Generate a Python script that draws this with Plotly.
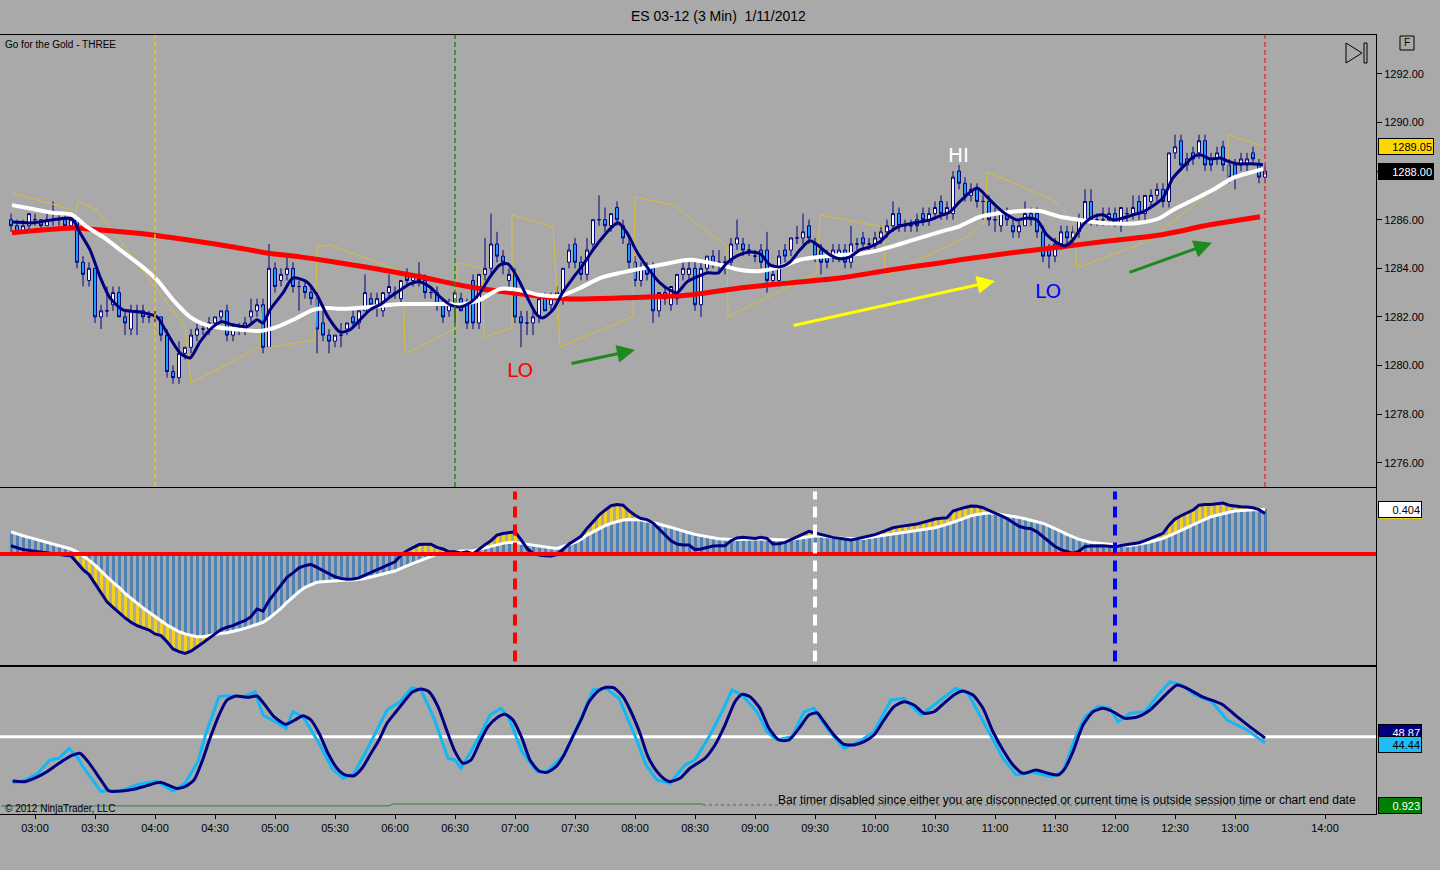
import plotly.graph_objects as go

W, H = 1440, 870
BG = "#A9A9A9"
NAVY = "#000080"
FONT = "Liberation Sans, Arial, sans-serif"

# ---------------- DATA ----------------
# 3-minute bars, minutes relative to 03:00 (first bar 02:48)
bar_start_minute = -12
bar_step_minutes = 3

open_prices = [
 1286.0,1285.75,1285.5,1285.75,1286.0,1286.0,1285.75,1286.0,1286.0,1286.0,
 1285.75,1286.0,1284.25,1283.5,1284.0,1282.0,1282.25,1282.5,1283.0,1282.0,
 1281.5,1282.25,1282.25,1282.0,1282.0,1282.0,1281.25,1279.75,1279.5,1280.5,
 1280.75,1281.25,1281.5,1281.5,1281.75,1282.0,1282.25,1281.25,1281.5,1281.5,
 1282.0,1282.25,1282.5,1280.75,1284.0,1283.5,1283.75,1284.0,1283.25,1283.25,
 1283.0,1282.75,1281.75,1281.25,1281.0,1281.25,1281.5,1282.0,1281.75,1282.25,
 1282.75,1282.5,1282.25,1283.0,1283.0,1282.75,1283.75,1283.5,1283.75,1283.5,
 1283.0,1283.0,1282.5,1282.25,1282.5,1282.75,1282.5,1283.5,1281.75,1283.75,
 1284.0,1285.0,1284.5,1283.5,1283.75,1282.0,1281.75,1281.75,1282.0,1282.75,
 1282.5,1282.75,1282.75,1284.25,1285.0,1284.25,1283.75,1285.0,1286.0,1286.0,
 1285.75,1286.5,1285.75,1285.0,1284.25,1283.5,1284.0,1284.0,1282.25,1283.0,
 1282.5,1282.75,1283.75,1283.75,1284.0,1282.5,1284.0,1284.5,1284.25,1284.25,
 1284.25,1285.0,1285.0,1284.75,1284.5,1284.75,1284.75,1283.5,1283.5,1284.75,
 1284.75,1285.25,1285.25,1285.75,1285.0,1284.75,1284.5,1284.5,1284.5,1284.75,
 1284.25,1285.0,1285.25,1285.0,1285.0,1285.25,1285.5,1285.75,1286.25,1285.75,
 1285.75,1286.0,1286.25,1286.0,1286.25,1286.75,1286.25,1286.25,1288.0,1287.5,
 1287.0,1287.25,1286.75,1286.75,1286.0,1285.75,1286.25,1285.75,1285.5,1285.75,
 1286.25,1286.25,1285.5,1284.75,1284.5,1285.0,1285.5,1285.25,1285.5,1286.0,
 1286.75,1286.0,1286.0,1286.0,1286.25,1285.75,1286.25,1286.25,1286.75,1286.25,
 1286.75,1287.0,1287.25,1286.75,1288.75,1289.25,1288.25,1288.75,1288.75,1289.25,
 1288.5,1288.5,1289.0,1288.25,1288.25,1288.25,1288.25,1288.75,1288.25,1287.75]

high_prices = [
 1286.25,1286.0,1286.0,1286.25,1286.25,1286.0,1286.25,1286.75,1286.25,1286.25,
 1286.25,1286.0,1284.5,1284.25,1284.0,1282.5,1283.25,1283.25,1283.25,1282.25,
 1282.5,1282.5,1282.5,1282.25,1282.25,1282.0,1281.5,1280.0,1281.0,1280.75,
 1281.5,1281.75,1281.75,1282.0,1282.0,1282.25,1282.5,1281.75,1281.75,1282.0,
 1282.75,1282.75,1282.75,1285.0,1284.25,1284.0,1284.5,1284.25,1283.5,1283.5,
 1283.25,1283.0,1282.25,1281.5,1281.25,1281.75,1281.75,1282.25,1282.25,1283.75,
 1283.0,1283.0,1283.0,1283.75,1283.25,1283.5,1284.0,1283.75,1284.25,1283.75,
 1283.25,1283.25,1282.75,1282.75,1283.0,1283.0,1282.75,1283.75,1283.75,1285.25,
 1286.25,1285.5,1284.75,1284.0,1284.0,1282.25,1282.25,1282.25,1282.75,1283.0,
 1283.0,1283.25,1284.0,1285.0,1285.25,1284.5,1285.25,1286.0,1287.0,1286.5,
 1286.25,1286.75,1286.0,1285.25,1284.5,1284.25,1284.25,1284.25,1283.0,1283.25,
 1283.25,1283.75,1284.25,1284.25,1284.25,1284.25,1284.5,1284.75,1284.75,1284.5,
 1285.25,1286.0,1285.25,1285.0,1284.75,1285.0,1285.5,1284.0,1284.75,1285.0,
 1285.25,1285.75,1286.25,1286.0,1285.25,1285.0,1284.75,1285.0,1285.0,1285.0,
 1285.75,1285.25,1285.5,1285.25,1285.5,1285.75,1286.0,1286.75,1286.5,1286.0,
 1286.0,1286.25,1286.5,1286.5,1286.75,1287.0,1286.75,1288.0,1288.25,1287.75,
 1287.5,1287.5,1287.0,1287.0,1286.5,1286.25,1286.5,1286.0,1286.0,1286.75,
 1286.5,1286.5,1285.75,1285.0,1285.25,1285.75,1285.75,1285.75,1286.25,1287.25,
 1287.25,1286.25,1286.5,1286.5,1286.5,1286.5,1286.5,1287.0,1287.0,1287.0,
 1287.25,1287.5,1287.5,1288.75,1289.5,1289.5,1288.75,1289.0,1289.5,1289.5,
 1288.75,1289.0,1289.25,1288.5,1288.5,1288.75,1288.75,1289.0,1288.5,1288.25]

low_prices = [
 1285.5,1285.5,1285.5,1285.5,1285.75,1285.5,1285.75,1285.75,1285.75,1285.75,
 1285.75,1284.0,1283.25,1283.25,1281.75,1281.5,1282.0,1282.25,1282.0,1281.25,
 1281.25,1281.25,1281.75,1281.75,1281.75,1281.0,1279.5,1279.25,1279.25,1280.25,
 1280.5,1281.0,1281.25,1281.25,1281.5,1281.75,1281.0,1281.0,1281.25,1281.25,
 1281.75,1282.0,1280.5,1280.75,1283.0,1283.25,1283.5,1283.0,1282.25,1282.75,
 1282.5,1280.5,1281.0,1280.5,1280.75,1280.75,1281.25,1281.5,1281.5,1282.25,
 1282.25,1282.0,1282.0,1282.75,1282.75,1282.5,1283.25,1283.25,1283.25,1282.75,
 1282.75,1282.25,1281.75,1282.0,1281.75,1282.25,1281.5,1281.5,1281.5,1283.5,
 1283.75,1284.25,1283.75,1283.25,1281.75,1280.75,1281.25,1281.25,1281.75,1282.25,
 1282.25,1282.5,1282.5,1284.0,1284.0,1283.5,1283.5,1284.75,1285.75,1285.5,
 1285.5,1285.75,1285.0,1284.0,1283.25,1283.25,1283.5,1281.75,1282.0,1282.5,
 1282.25,1282.5,1283.5,1283.5,1282.25,1282.0,1283.75,1284.0,1283.75,1283.75,
 1284.0,1284.75,1284.5,1284.5,1284.25,1284.0,1283.0,1283.25,1283.25,1284.25,
 1284.5,1285.0,1285.0,1285.0,1284.25,1283.75,1284.0,1284.25,1284.25,1284.0,
 1284.0,1284.75,1284.75,1284.75,1284.75,1285.0,1285.25,1285.5,1285.5,1285.5,
 1285.5,1285.5,1285.75,1285.75,1286.0,1286.0,1286.0,1286.0,1287.25,1286.75,
 1286.75,1286.5,1286.0,1285.75,1285.5,1285.5,1285.75,1285.25,1285.25,1285.75,
 1285.75,1285.25,1284.25,1284.0,1284.25,1284.75,1285.0,1285.0,1285.25,1286.0,
 1285.75,1285.75,1285.75,1285.75,1285.75,1285.5,1285.75,1286.0,1286.0,1286.0,
 1286.5,1286.75,1286.5,1286.5,1288.5,1288.0,1288.0,1288.25,1288.5,1288.0,
 1288.0,1288.25,1288.0,1287.5,1287.25,1288.0,1288.0,1288.25,1287.5,1287.5]

close_prices = [
 1285.75,1285.5,1285.75,1286.25,1286.0,1285.75,1286.0,1286.0,1286.0,1285.75,
 1286.0,1284.25,1283.75,1284.0,1282.0,1282.25,1282.25,1283.0,1282.0,1281.75,
 1282.25,1282.25,1282.0,1282.0,1282.0,1281.25,1279.75,1279.5,1280.5,1280.75,
 1281.25,1281.5,1281.5,1281.75,1282.0,1282.25,1281.25,1281.5,1281.5,1281.75,
 1282.25,1282.5,1280.75,1284.0,1283.25,1283.75,1284.0,1283.25,1283.25,1283.0,
 1282.75,1281.5,1281.25,1281.0,1281.25,1281.25,1281.75,1281.75,1282.25,1283.0,
 1282.5,1282.75,1283.0,1283.25,1283.0,1283.5,1283.5,1283.75,1283.5,1283.0,
 1283.0,1282.5,1282.0,1282.5,1283.0,1282.25,1281.75,1281.75,1283.75,1284.0,
 1285.0,1284.5,1284.25,1283.75,1282.0,1281.75,1281.75,1282.0,1282.75,1282.25,
 1282.75,1283.0,1284.0,1284.75,1284.25,1283.75,1284.75,1286.0,1286.0,1285.75,
 1286.25,1286.0,1285.25,1284.25,1283.5,1284.0,1283.75,1282.25,1283.0,1282.75,
 1283.25,1283.75,1284.0,1284.0,1282.5,1284.0,1284.5,1284.25,1284.25,1284.25,
 1285.0,1285.25,1284.75,1284.75,1284.5,1284.25,1283.5,1283.75,1284.5,1284.5,
 1285.25,1285.25,1285.5,1285.25,1284.5,1284.25,1284.25,1284.75,1284.75,1284.25,
 1285.0,1285.0,1285.0,1285.0,1285.25,1285.5,1285.75,1286.25,1285.75,1285.75,
 1285.75,1285.75,1286.0,1286.25,1286.5,1286.25,1286.5,1287.75,1287.5,1287.0,
 1287.25,1286.75,1286.75,1286.0,1286.0,1286.25,1286.0,1285.5,1285.75,1286.25,
 1286.0,1285.5,1284.5,1284.5,1285.0,1285.5,1285.25,1285.5,1286.0,1286.75,
 1286.0,1286.0,1286.0,1286.25,1285.75,1286.5,1286.25,1286.5,1286.25,1287.0,
 1287.0,1287.25,1286.75,1288.75,1289.0,1288.25,1288.5,1288.5,1289.25,1288.25,
 1288.25,1288.75,1288.25,1287.75,1287.75,1288.5,1288.5,1288.5,1287.75,1288.0]

# moving averages: (minute, price)
fast_ma = [(-11.5,1285.9),(-1,1285.87),(9,1286.0),(18.5,1286.03),(22.5,1285.46),(27.5,1284.76),
 (32.5,1283.65),(37.5,1282.78),(44,1282.29),(52.5,1282.2),(61,1282.0),(66,1281.34),(72.5,1280.52),
 (77.5,1280.31),(82.5,1280.97),(89,1281.59),(93.5,1281.8),(99,1281.67),(106,1281.6),(111,1281.88),
 (114,1281.75),(117.5,1282.29),(124,1282.99),(129,1283.6),(136,1283.44),(141,1282.9),(146.5,1282.0),
 (152.5,1281.38),(157.5,1281.47),(162.5,1281.88),(167.5,1282.29),(172.5,1282.5),(177.5,1282.82),
 (182.5,1283.1),(187.5,1283.36),(192.5,1283.44),(197.5,1283.23),(202.5,1282.82),(207.5,1282.5),
 (212.5,1282.41),(217.5,1282.58),(222.5,1282.99),(227.5,1283.65),(232.5,1284.14),(236.5,1284.18),
 (241,1283.65),(246,1282.82),(251,1282.08),(254,1281.96),(259,1282.29),(264,1283.03),(269,1283.6),
 (274,1284.14),(279,1284.76),(284,1285.29),(288.5,1285.7),(291.5,1285.87),(296,1285.46),(301,1284.67),
 (306.5,1284.0),(312.5,1283.4),(317.5,1283.1),(321,1282.99),(326,1283.44),(331,1283.65),(336,1283.81),
 (341.5,1283.81),(346,1284.22),(351,1284.51),(357.5,1284.67),(362.5,1284.6),(367.5,1284.14),
 (372.5,1284.06),(377.5,1284.26),(382.5,1284.76),(387.5,1285.13),(392.5,1284.88),(397.5,1284.55),
 (402.5,1284.39),(407.5,1284.47),(412.5,1284.76),(417.5,1284.88),(422.5,1285.09),(427.5,1285.5),
 (432.5,1285.74),(437.5,1285.83),(442.5,1285.91),(447.5,1285.99),(452.5,1286.16),(457.5,1286.32),
 (462.5,1286.75),(471,1287.3),(476,1286.94),(481,1286.53),(486,1286.2),(491,1285.99),(496,1286.07),
 (501,1285.99),(506,1285.37),(511,1285.05),(515,1284.92),(519,1285.17),(524,1285.79),(529,1286.12),
 (534,1286.2),(539,1285.99),(544,1286.07),(549,1286.2),(554,1286.32),(559,1286.57),(564,1286.9),
 (569,1287.72),(574,1288.17),(579,1288.58),(582.5,1288.67),(587.5,1288.5),(592.5,1288.54),
 (596,1288.42),(601,1288.3),(607.5,1288.3),(614,1288.26)]

mid_ma = [(-11.5,1286.6),(-1,1286.44),(9,1286.28),(18.5,1286.2),(26,1285.7),(34,1285.29),(44,1284.67),
 (52.5,1284.14),(61,1283.52),(69,1282.7),(77.5,1282.0),(84,1281.71),(92.5,1281.55),(102.5,1281.47),
 (112.5,1281.42),(121,1281.59),(129,1281.88),(139,1282.29),(146.5,1282.37),(152.5,1282.33),
 (167.5,1282.41),(182.5,1282.53),(192.5,1282.53),(207.5,1282.53),(212.5,1282.5),(222.5,1282.7),
 (232.5,1283.15),(242.5,1283.1),(252.5,1282.9),(262.5,1282.86),(272.5,1283.19),(282.5,1283.6),
 (292.5,1283.81),(306.5,1284.04),(317.5,1284.22),(327.5,1284.35),(342.5,1284.14),(352.5,1283.93),
 (362.5,1283.89),(372.5,1284.06),(382.5,1284.35),(392.5,1284.47),(402.5,1284.55),(412.5,1284.6),
 (422.5,1284.76),(432.5,1285.0),(442.5,1285.25),(452.5,1285.5),(462.5,1285.74),(472.5,1286.12),
 (487.5,1286.32),(502.5,1286.36),(512.5,1286.12),(522.5,1285.99),(532.5,1285.87),(542.5,1285.83),
 (552.5,1285.87),(562.5,1286.07),(569,1286.4),(579,1286.81),(589,1287.23),(599,1287.72),
 (609,1287.97),(614,1288.09)]

slow_ma = [(-11.5,1285.46),(-1,1285.54),(18.5,1285.66),(32.5,1285.58),(49,1285.46),(66,1285.29),
 (82.5,1285.09),(99,1284.88),(116,1284.63),(132.5,1284.47),(146.5,1284.3),(167.5,1284.02),
 (192.5,1283.65),(217.5,1283.23),(242.5,1282.95),(267.5,1282.74),(292.5,1282.78),(327.5,1282.9),
 (352.5,1283.19),(377.5,1283.4),(402.5,1283.6),(427.5,1283.93),(452.5,1284.22),(462.5,1284.35),
 (487.5,1284.63),(512.5,1284.88),(537.5,1285.13),(562.5,1285.37),(587.5,1285.79),(612.5,1286.12)]

# thin yellow channel lines (minute, price)
channel_lines = [
 [(-11.5,1287.10),(19,1286.40)],
 [(20,1286.28),(21.5,1286.73),(31,1286.40),(75,1281.59),(78,1279.28),(112.5,1280.77),(113.5,1282.41)],
 [(116,1280.72),(140,1281.05),(141,1284.88),(147.5,1284.96),(184,1283.85),(185,1280.52)],
 [(186,1280.52),(211,1281.55),(211,1284.22),(223.5,1284.02),(224.5,1281.18),(238.5,1281.55),
  (238.5,1286.20),(259,1285.70),(262.5,1280.77),(299,1282.0),(300,1286.94),(319,1286.61),
  (346,1284.88),(346.5,1282.0),(391,1283.81),(392.5,1286.20),(424,1285.70),(425,1284.02),
  (426,1283.73),(466,1285.29),(475,1285.91),(476,1287.97),(509,1286.81),(519,1285.99),
  (521,1284.02),(556,1285.09),(589,1287.23),(596.5,1287.64),(596.5,1289.49),(615,1289.0)]]

# MACD-style panel, one value per bar
macd_hist = [
 0.20,0.18,0.165,0.15,0.135,0.12,0.105,0.09,0.075,0.065,
 0.045,0.02,-0.015,-0.055,-0.10,-0.155,-0.205,-0.255,-0.30,-0.355,
 -0.40,-0.445,-0.485,-0.525,-0.565,-0.605,-0.64,-0.67,-0.70,-0.72,
 -0.735,-0.745,-0.745,-0.735,-0.72,-0.715,-0.71,-0.70,-0.685,-0.67,
 -0.65,-0.635,-0.615,-0.58,-0.535,-0.49,-0.435,-0.385,-0.34,-0.30,
 -0.275,-0.255,-0.25,-0.245,-0.24,-0.237,-0.235,-0.235,-0.228,-0.22,
 -0.207,-0.195,-0.183,-0.17,-0.153,-0.13,-0.105,-0.085,-0.063,-0.04,
 -0.02,0.0,-0.005,0.006,0.02,0.027,0.027,0.03,0.042,0.057,
 0.072,0.081,0.096,0.105,0.105,0.096,0.087,0.081,0.072,0.06,
 0.057,0.051,0.066,0.087,0.105,0.132,0.171,0.20,0.23,0.255,
 0.276,0.29,0.306,0.312,0.312,0.306,0.297,0.285,0.27,0.255,
 0.24,0.222,0.207,0.192,0.177,0.165,0.156,0.147,0.138,0.132,
 0.132,0.132,0.135,0.135,0.135,0.135,0.132,0.126,0.126,0.126,
 0.132,0.141,0.15,0.156,0.162,0.162,0.156,0.15,0.147,0.141,
 0.141,0.141,0.141,0.148,0.156,0.163,0.171,0.181,0.192,0.20,
 0.207,0.215,0.222,0.23,0.237,0.252,0.267,0.286,0.306,0.325,
 0.345,0.356,0.366,0.372,0.366,0.358,0.351,0.34,0.33,0.318,
 0.306,0.29,0.276,0.253,0.231,0.204,0.177,0.155,0.132,0.118,
 0.105,0.10,0.096,0.088,0.081,0.078,0.075,0.081,0.087,0.099,
 0.111,0.126,0.141,0.163,0.186,0.211,0.237,0.264,0.291,0.313,
 0.336,0.351,0.366,0.376,0.387,0.392,0.396,0.398,0.40,0.404]

macd_line = [
 0.075,0.055,0.04,0.033,0.025,0.015,0.005,0.0,-0.01,-0.012,
 -0.015,-0.075,-0.14,-0.185,-0.27,-0.35,-0.43,-0.48,-0.53,-0.575,
 -0.615,-0.645,-0.665,-0.685,-0.72,-0.735,-0.79,-0.855,-0.88,-0.895,
 -0.875,-0.84,-0.80,-0.76,-0.72,-0.68,-0.66,-0.645,-0.62,-0.60,
 -0.565,-0.495,-0.515,-0.42,-0.35,-0.28,-0.21,-0.17,-0.125,-0.105,
 -0.093,-0.12,-0.15,-0.18,-0.205,-0.22,-0.228,-0.225,-0.215,-0.19,
 -0.165,-0.14,-0.12,-0.095,-0.07,-0.01,0.03,0.057,0.085,0.087,
 0.087,0.06,0.045,0.02,0.02,0.01,0.02,0.0,0.045,0.085,
 0.12,0.171,0.185,0.195,0.20,0.13,0.051,0.006,-0.01,-0.015,
 -0.018,-0.005,0.04,0.09,0.125,0.16,0.23,0.291,0.35,0.395,
 0.435,0.447,0.44,0.39,0.35,0.32,0.31,0.28,0.225,0.17,
 0.12,0.09,0.081,0.081,0.04,0.045,0.058,0.072,0.075,0.075,
 0.12,0.145,0.15,0.145,0.14,0.15,0.14,0.09,0.093,0.105,
 0.13,0.16,0.18,0.205,0.19,0.175,0.16,0.15,0.142,0.135,
 0.126,0.138,0.15,0.163,0.175,0.195,0.215,0.237,0.247,0.255,
 0.262,0.27,0.285,0.303,0.315,0.322,0.327,0.387,0.405,0.42,
 0.432,0.43,0.417,0.39,0.368,0.345,0.32,0.285,0.25,0.235,
 0.228,0.2,0.156,0.105,0.068,0.04,0.02,0.006,0.025,0.068,
 0.073,0.075,0.074,0.07,0.066,0.077,0.087,0.095,0.102,0.12,
 0.141,0.165,0.186,0.26,0.315,0.345,0.37,0.396,0.44,0.447,
 0.447,0.455,0.46,0.44,0.432,0.427,0.424,0.417,0.40,0.366]

# stochastic panel (minute, value)
stoch_slow = [(-11.2,9.7),(-5,9.1),(1.5,13.6),(5.5,17.6),(12,25.8),(18.2,32.7),(22.5,34.9),(26.5,27.3),
 (33,10.6),(37,0.6),(43.5,0.6),(50,2.5),(56,5.5),(62.5,8.5),(66.5,6.1),(71,3.0),(75,4.5),(79.5,10.6),
 (83.5,27.3),(87.5,48.5),(92,69.7),(96,83.4),(100.5,87),(106.5,85.8),(111,87),(115,78.8),(119.5,68.2),
 (125.5,61.3),(130,65.2),(134,69.1),(138,65.2),(142.5,51.5),(146.5,34.9),(151,21.3),(155,15.2),
 (159.5,14.5),(163.5,21.3),(167.5,33.4),(172,47),(176,62.2),(180.5,72.7),(184.5,81.8),(188.5,90.4),
 (193,93.4),(197,90.9),(201.5,77.3),(205.5,57.6),(210,36.4),(214,25.8),(218,28.8),(222.5,45.5),
 (226.5,59.1),(231,67.3),(235,70.4),(239,65.2),(243.5,48.5),(247.5,28.8),(252,18.8),(256,17.6),
 (260.5,22.7),(264.5,33.4),(268.5,48.5),(273,65.2),(277,81.8),(281.5,91.5),(285.5,94.9),(289.5,94.5),
 (294,86.4),(298,72.7),(302.5,53.1),(306.5,31.8),(311,18.2),(315,11),(317.5,9.1),(322.5,12.2),
 (327.5,21.3),(335,30.4),(340,42.5),(345,60.6),(350,81.8),(353.5,88.5),(357.5,86.4),(362.5,75.8),
 (367,57.6),(372,47),(377,47),(382,57.6),(387,69.7),(391,71.8),(394.5,63.6),(399.5,51.5),(404.5,43.1),
 (409.5,42.5),(414.5,45.5),(419.5,51.5),(424.5,65.2),(429.5,77.3),(434.5,81.8),(439.5,78.8),
 (444.5,71.3),(449.5,72.7),(454.5,80.4),(459.5,87.9),(464,91.5),(469,87.9),(474,75.8),(479,54.5),
 (484,37.9),(489,24.3),(494,16.7),(500.5,19.7),(506.5,16.7),(511.5,15.2),(515,21.3),(519,36.4),
 (524,60.6),(529,72.7),(534,75.8),(539,72.7),(545,66.7),(551.5,68.2),(557.5,74.3),(563.5,84.9),
 (571,97),(576,94),(583.5,86.4),(593.5,79.5),(601,68.2),(608.5,57.6),(615,48.87)]

stoch_fast = [(-11.2,7.6),(-5,10.6),(1.5,16.7),(7.5,28.8),(12,30.4),(17,39.4),(21.5,30.4),(24.5,21.3),
 (33,0),(37,1.5),(41.5,0),(52,6.7),(60.5,9.7),(69,0.6),(75,7.6),(81.5,27.3),(85.5,53.1),(92,86.4),
 (96,87.3),(104.5,86.4),(110,90.9),(114,69.7),(121.5,62.2),(125.5,57.6),(129,72.7),(134,68.2),
 (142.5,42.5),(148.5,21.3),(154,12.2),(159.5,16.7),(165.5,36.4),(176,74.3),(182.5,81.8),(188.5,94.5),
 (193,92.5),(199.5,66.7),(206.5,30.4),(210,28.8),(213,21.3),(217,33.4),(222.5,51.5),(227.5,69.7),
 (233,75.8),(237,66.7),(243.5,36.4),(251,18.2),(256,18.2),(264.5,33.4),(273,66.7),(279,92.5),
 (285.5,94),(292,84.9),(300.5,48.5),(305.5,24.3),(311,10.6),(317.5,7.6),(325,24.3),(330,28.8),
 (337.5,51.5),(343.5,72.7),(348.5,92.5),(353.5,87.9),(361,72.7),(366,54.5),(371,47),(378.5,50),
 (384.5,72.7),(389.5,75.8),(396,57.6),(404.5,39.4),(412,45.5),(419.5,54.5),(428,83.4),(434.5,84.9),
 (443,69.7),(452,81.8),(460.5,94),(466.5,89.5),(475.5,59.1),(484,30.4),(490.5,15.2),(499,17.6),
 (508,13.6),(514,18.2),(520,48.5),(525,68.2),(531.5,77.3),(537.5,75.8),(541.5,63.6),(547.5,71.3),
 (555,72.7),(561.5,87.9),(567.5,100),(573.5,97),(580,87.9),(588.5,81.8),(596,65.2),(606,56.1),
 (615,44.44)]
stoch_mid_level = 50

# thin green indicator at the bottom (minute, value)
green_solid = [(-17,0.90),(177,0.90),(179,0.923),(334,0.923)]
green_dotted = [(334,0.911),(611,0.911)]

# marker lines (minute)
price_marks = [60, 210, 615]
price_mark_colors = ["#E8C22A", "#1E8A1E", "#E03C3C"]
osc_marks = [240, 390, 540]
osc_mark_colors = ["#FF0000", "#FFFFFF", "#0000FF"]

tick_minutes = [0, 30, 60, 90, 120, 150, 180, 210, 240, 270, 300, 330, 360, 390, 420, 450,
                480, 510, 540, 570, 600, 645]
tick_labels = ["03:00", "03:30", "04:00", "04:30", "05:00", "05:30", "06:00", "06:30", "07:00",
               "07:30", "08:00", "08:30", "09:00", "09:30", "10:00", "10:30", "11:00", "11:30",
               "12:00", "12:30", "13:00", "14:00"]
price_ticks = [1276, 1278, 1280, 1282, 1284, 1286, 1288, 1290, 1292]
# 1288.00 is covered by the last-price tag in the reference
price_tick_labels = ["1276.00", "1278.00", "1280.00", "1282.00", "1284.00", "1286.00", "", "1290.00", "1292.00"]

# ---------------- FIGURE ----------------
bar_minutes = [bar_start_minute + bar_step_minutes * i for i in range(len(close_prices))]
XR = [-17.5, 670.5]


def px(x):
    return x / W


def py(y):
    return 1 - y / H


def unzip(pairs):
    return [p[0] for p in pairs], [p[1] for p in pairs]


fig = go.Figure()

cx, cy = [], []
for seg in channel_lines:
    for t, v in seg:
        cx.append(t)
        cy.append(v)
    cx.append(None)
    cy.append(None)
fig.add_trace(go.Scatter(x=cx, y=cy, mode="lines", line=dict(color="#D9BE3A", width=1),
                         xaxis="x", yaxis="y", hoverinfo="skip"))

fig.add_trace(go.Candlestick(
    x=bar_minutes, open=open_prices, high=high_prices, low=low_prices, close=close_prices,
    xaxis="x", yaxis="y", whiskerwidth=0,
    increasing=dict(line=dict(color=NAVY, width=1), fillcolor="#FFFFFF"),
    decreasing=dict(line=dict(color=NAVY, width=1), fillcolor="#1E9EF5")))

for pairs, col, wd in [(slow_ma, "#FF0000", 5), (mid_ma, "#FFFFFF", 4), (fast_ma, NAVY, 3)]:
    tx, vy = unzip(pairs)
    fig.add_trace(go.Scatter(x=tx, y=vy, mode="lines",
                             line=dict(color=col, width=wd, shape="spline", smoothing=0.7),
                             xaxis="x", yaxis="y", hoverinfo="skip"))

fig.add_trace(go.Bar(x=bar_minutes, y=macd_hist, width=1.5, marker=dict(color="#4F82B4", line=dict(width=0)),
                     xaxis="x2", yaxis="y2"))
yx, yb, yh = [], [], []
for t, w, n in zip(bar_minutes, macd_hist, macd_line):
    if n > 0 and n > w:
        b = max(w, 0.0)
    elif n < 0 and n < w:
        b = min(w, 0.0)
    else:
        continue
    yx.append(t)
    yb.append(b)
    yh.append(n - b)
fig.add_trace(go.Bar(x=yx, y=yh, base=yb, width=1.5, marker=dict(color="#F2D01E", line=dict(width=0)),
                     xaxis="x2", yaxis="y2"))
fig.add_trace(go.Scatter(x=bar_minutes, y=macd_hist, mode="lines", line=dict(color="#FFFFFF", width=3),
                         xaxis="x2", yaxis="y2", hoverinfo="skip"))
fig.add_trace(go.Scatter(x=bar_minutes, y=macd_line, mode="lines", line=dict(color=NAVY, width=3),
                         xaxis="x2", yaxis="y2", hoverinfo="skip"))

tx, vy = unzip(stoch_fast)
fig.add_trace(go.Scatter(x=tx, y=vy, mode="lines", line=dict(color="#12B8F5", width=3),
                         xaxis="x3", yaxis="y3", hoverinfo="skip"))
tx, vy = unzip(stoch_slow)
fig.add_trace(go.Scatter(x=tx, y=vy, mode="lines", line=dict(color=NAVY, width=3, shape="spline", smoothing=0.6),
                         xaxis="x3", yaxis="y3", hoverinfo="skip"))
tx, vy = unzip(green_solid)
fig.add_trace(go.Scatter(x=tx, y=vy, mode="lines", line=dict(color="#2E7D32", width=1),
                         xaxis="x3", yaxis="y4", hoverinfo="skip"))
tx, vy = unzip(green_dotted)
fig.add_trace(go.Scatter(x=tx, y=vy, mode="lines", line=dict(color="#2E7D32", width=1, dash="dot"),
                         xaxis="x3", yaxis="y4", hoverinfo="skip"))

shapes = []
for t, c in zip(price_marks, price_mark_colors):
    shapes.append(dict(type="line", xref="x", yref="y domain", x0=t, x1=t, y0=0, y1=1,
                       line=dict(color=c, width=1.5, dash="5px,3px")))
shapes.append(dict(type="line", xref="x2 domain", yref="y2", x0=0, x1=1, y0=0, y1=0,
                   line=dict(color="#FF0000", width=4)))
for t, c in zip(osc_marks, osc_mark_colors):
    shapes.append(dict(type="line", xref="x2", yref="y2 domain", x0=t, x1=t, y0=0.02, y1=0.98,
                       line=dict(color=c, width=4, dash="11px,7px")))
shapes.append(dict(type="line", xref="x3 domain", yref="y3", x0=0, x1=1, y0=stoch_mid_level,
                   y1=stoch_mid_level, line=dict(color="#FFFFFF", width=3), layer="below"))
shapes.append(dict(type="path", xref="paper", yref="paper",
                   path=f"M {px(1346)},{py(43)} L {px(1346)},{py(63)} L {px(1362)},{py(53)} Z",
                   line=dict(color="#000000", width=1)))
shapes.append(dict(type="rect", xref="paper", yref="paper", x0=px(1364), x1=px(1367), y0=py(63), y1=py(43),
                   line=dict(color="#000000", width=1)))
shapes.append(dict(type="rect", xref="paper", yref="paper", x0=px(1400), x1=px(1414), y0=py(50), y1=py(36),
                   line=dict(color="#000000", width=1)))
shapes.append(dict(type="rect", xref="paper", yref="paper", x0=px(1380), x1=px(1421), y0=py(519), y1=py(504),
                   fillcolor="#F2D01E", line=dict(width=0)))


def label(text, x, y, size, color="#000000", xanchor="center", family=FONT):
    return dict(text=text, x=px(x), y=py(y), xref="paper", yref="paper", xanchor=xanchor,
                yanchor="middle", showarrow=False, font=dict(size=size, color=color, family=family))


annotations = [
    label("ES 03-12 (3 Min)\u00a0\u00a01/11/2012", 718, 16, 14),
    label("Go for the Gold - THREE", 3, 45, 10, xanchor="left"),
    label("© 2012 NinjaTrader, LLC", 3, 808, 10, xanchor="left"),
    label("Bar timer disabled since either you are disconnected or current time is outside session time or chart end date",
          1358, 800, 12, xanchor="right"),
    label("F", 1407, 43, 10),
    dict(text="LO", x=242.5, y=1279.82, xref="x", yref="y", showarrow=False,
         font=dict(size=20, color="#FF0000", family="DejaVu Sans")),
    dict(text="HI", x=461.5, y=1288.67, xref="x", yref="y", showarrow=False,
         font=dict(size=20, color="#FFFFFF", family="DejaVu Sans")),
    dict(text="LO", x=506.5, y=1283.07, xref="x", yref="y", showarrow=False,
         font=dict(size=20, color="#0000FF", family="DejaVu Sans")),
]
for (x0, y0, x1, y1, col) in [(267.5, 1280.07, 300, 1280.64, "#1E8A1E"),
                              (378.5, 1281.63, 480, 1283.48, "#FFFF00"),
                              (546.5, 1283.81, 588.5, 1285.05, "#1E8A1E")]:
    annotations.append(dict(x=x1, y=y1, ax=x0, ay=y0, xref="x", yref="y", axref="x", ayref="y",
                            text="", showarrow=True, arrowhead=2, arrowsize=1.2, arrowwidth=3,
                            arrowcolor=col))


def tag(text, y, bg, fg, w=44):
    return dict(text=text, x=px(1378), y=py(y), xref="paper", yref="paper", xanchor="left",
                yanchor="middle", showarrow=False, bgcolor=bg, bordercolor="#000000", borderwidth=1,
                borderpad=1, width=w, height=13, align="right", font=dict(size=11, color=fg, family=FONT))


annotations += [
    tag("1289.05", 146, "#FFD700", "#000000", 52),
    tag("1288.00", 171, "#000000", "#FFFFFF", 52),
    tag("0.404", 509, "#FFFFFF", "#000000", 40),
    tag("48.87", 732, NAVY, "#FFFFFF", 40),
    tag("44.44", 744, "#1EBDF5", "#000000", 40),
    tag("0.923", 805, "#008000", "#FFFFFF", 40),
]

xd = [0, 1376 / W]
axis_common = dict(showgrid=False, zeroline=False, showline=True, linecolor="#000000", linewidth=1, mirror=True)

fig.update_layout(
    width=W, height=H, margin=dict(l=0, r=0, t=0, b=0),
    paper_bgcolor=BG, plot_bgcolor=BG, showlegend=False, barmode="overlay", bargap=0,
    font=dict(family=FONT, size=11, color="#000000"),
    xaxis=dict(domain=xd, range=XR, anchor="y", showticklabels=False, rangeslider=dict(visible=False), **axis_common),
    xaxis2=dict(domain=xd, range=XR, anchor="y2", showticklabels=False, **axis_common),
    xaxis3=dict(domain=xd, range=XR, anchor="y3", tickvals=tick_minutes, ticktext=tick_labels,
                ticks="outside", ticklen=4, tickcolor="#000000", tickfont=dict(size=11), **axis_common),
    yaxis=dict(domain=[1 - 487 / H, 1 - 35 / H], range=[1275.0, 1293.6], side="right", anchor="x",
               tickvals=price_ticks, ticktext=price_tick_labels, ticks="outside", ticklen=5,
               tickcolor="#000000", tickfont=dict(size=11), **axis_common),
    yaxis2=dict(domain=[1 - 665 / H, 1 - 488 / H], range=[-1.0, 0.595], side="right", anchor="x2",
                showticklabels=False, **axis_common),
    yaxis3=dict(domain=[1 - 814 / H, 1 - 667 / H], range=[-20.3, 113.4], side="right", anchor="x3",
                showticklabels=False, **axis_common),
    yaxis4=dict(overlaying="y3", range=[0.8, 2.61], visible=False, anchor="x3"),
    shapes=shapes, annotations=annotations,
)

fig.write_html("out.html", config={"displayModeBar": False},
               post_script="document.body.style.margin='0px';document.body.style.overflow='hidden';")
